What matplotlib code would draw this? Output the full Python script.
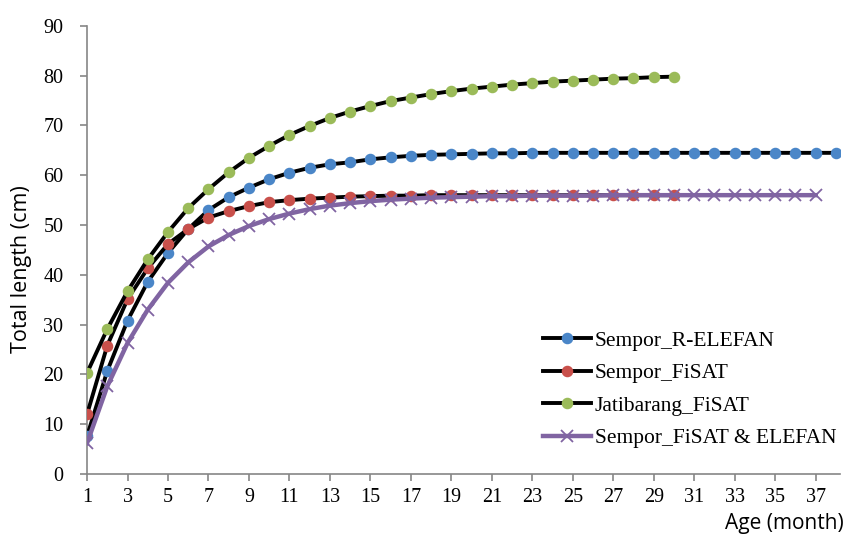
import matplotlib
matplotlib.use("Agg")
import matplotlib.pyplot as plt

# Age (month) categories
ages_blue = list(range(1, 39))
ages_red = list(range(1, 31))
ages_green = list(range(1, 31))
ages_purple = list(range(1, 38))

sempor_r_elefan = [7.6, 20.7, 30.8, 38.6, 44.4, 49.2, 53.0, 55.6, 57.5, 59.2,
                   60.5, 61.5, 62.2, 62.6, 63.2, 63.6, 63.9, 64.1, 64.2, 64.3,
                   64.4, 64.4, 64.5, 64.5, 64.5, 64.5, 64.5, 64.5, 64.5, 64.5,
                   64.5, 64.5, 64.5, 64.5, 64.5, 64.5, 64.5, 64.5]
sempor_fisat = [12.0, 25.8, 35.1, 41.3, 46.2, 49.2, 51.5, 52.8, 53.8, 54.6,
                55.0, 55.3, 55.5, 55.7, 55.8, 55.9, 55.9, 56.0, 56.0, 56.0,
                56.0, 56.0, 56.0, 56.0, 56.0, 56.0, 56.0, 56.0, 56.0, 56.0]
jatibarang_fisat = [20.3, 29.1, 36.7, 43.1, 48.6, 53.4, 57.2, 60.6, 63.5, 65.9,
                    68.1, 69.9, 71.5, 72.8, 73.9, 74.9, 75.6, 76.3, 76.9, 77.4,
                    77.8, 78.2, 78.5, 78.8, 79.0, 79.2, 79.4, 79.5, 79.7, 79.8]
sempor_fisat_elefan = [6.2, 17.6, 26.3, 33.0, 38.4, 42.5, 45.7, 48.0, 49.8, 51.2,
                       52.3, 53.2, 53.9, 54.4, 54.8, 55.1, 55.3, 55.5, 55.6, 55.7,
                       55.8, 55.8, 55.9, 55.9, 55.9, 55.9, 56.0, 56.0, 56.0, 56.0,
                       56.0, 56.0, 56.0, 56.0, 56.0, 56.0, 56.0]

labels = ["Sempor_R-ELEFAN", "Sempor_FiSAT", "Jatibarang_FiSAT", "Sempor_FiSAT & ELEFAN"]
xticks = list(range(1, 38, 2))
yticks = list(range(0, 91, 10))

fig = plt.figure(figsize=(8.45, 5.39), dpi=100)
ax = fig.add_axes([0.103, 0.1206, 0.891, 0.8314])

lw = 2.8
ms = 7.3
ax.plot(ages_blue, sempor_r_elefan, color="black", lw=lw, marker="o", ms=ms,
        mfc="#4a86c8", mec="#4a86c8", label=labels[0], zorder=3)
ax.plot(ages_red, sempor_fisat, color="black", lw=lw, marker="o", ms=ms,
        mfc="#c9504b", mec="#c9504b", label=labels[1], zorder=3)
ax.plot(ages_green, jatibarang_fisat, color="black", lw=lw, marker="o", ms=ms,
        mfc="#9bbb59", mec="#9bbb59", label=labels[2], zorder=3)
ax.plot(ages_purple, sempor_fisat_elefan, color="#8064a2", lw=3.2, marker="x", ms=8.5,
        mew=1.3, mec="#8064a2", label=labels[3], zorder=4)

ax.set_xlim(1, 38.2)
ax.set_ylim(0, 90)
ax.set_xticks(xticks)
ax.set_yticks(yticks)
serif = "Liberation Serif"
ax.set_xticklabels([str(t) for t in xticks], fontfamily=serif, fontsize=14.5)
ax.set_yticklabels([str(t) for t in yticks], fontfamily=serif, fontsize=14.5)

for s in ["top", "right"]:
    ax.spines[s].set_visible(False)
for s in ["left", "bottom"]:
    ax.spines[s].set_color("#868686")
    ax.spines[s].set_linewidth(1.2)
ax.tick_params(axis="y", direction="out", color="#868686", width=1.2, length=5, pad=12)
ax.tick_params(axis="x", direction="out", color="#868686", width=1.2, length=5, pad=5)

fig.text(0.026, 0.5, "Total length (cm)", rotation=90, va="center", ha="center",
         fontfamily="Open Sans", fontsize=15.5)
fig.text(0.999, 0.028, "Age (month)", ha="right", va="center",
         fontfamily="Open Sans", fontsize=15)

leg = ax.legend(loc="upper left", bbox_to_anchor=(0.606, 0.32), frameon=False,
                prop={"family": serif, "size": 15.5}, handlelength=2.2,
                handletextpad=0.2, labelspacing=0.58, borderaxespad=0.0,
                borderpad=0.0)

fig.savefig("out.png", dpi=100)
